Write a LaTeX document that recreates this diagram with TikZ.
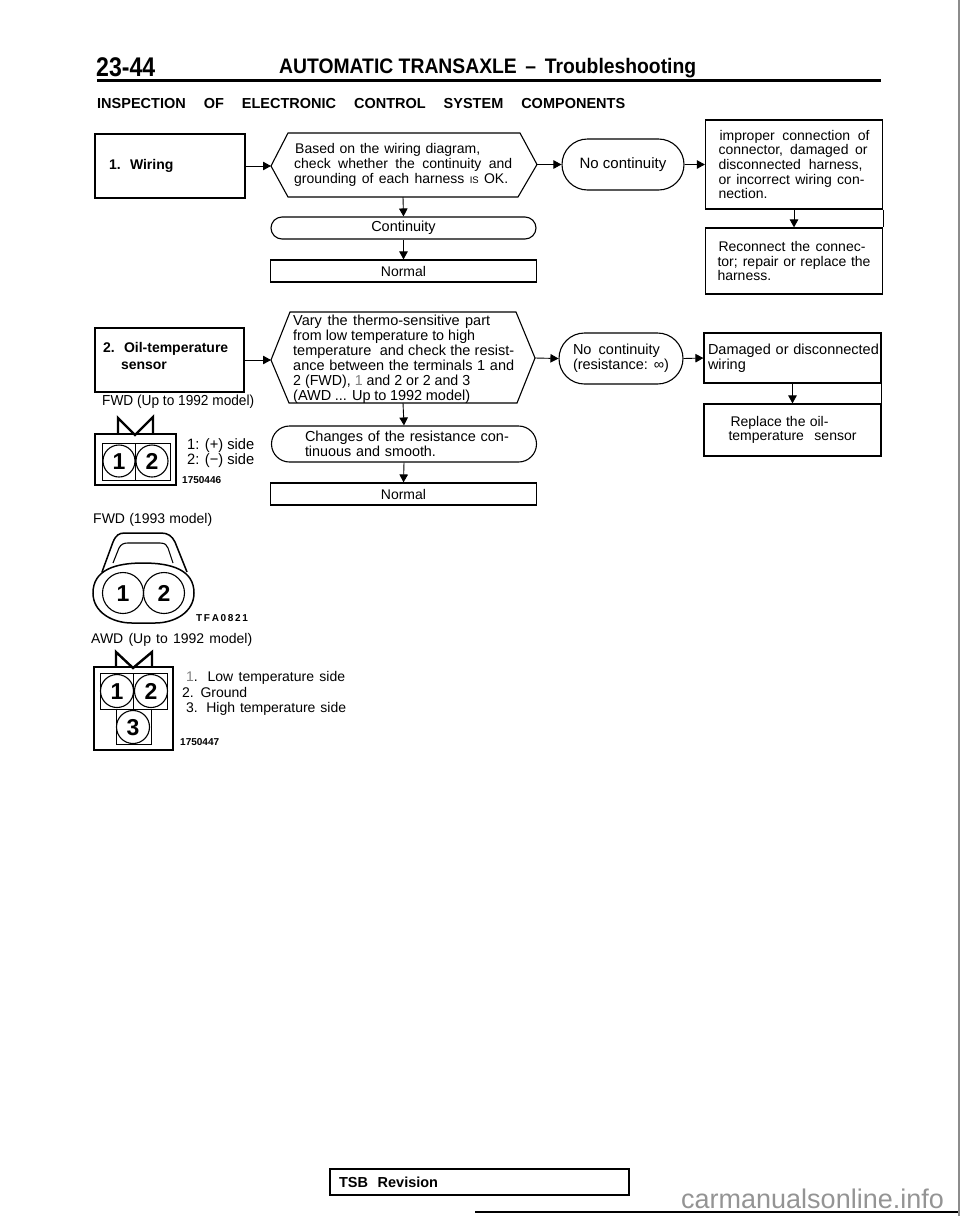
\documentclass[tikz,border=0pt]{standalone}
\usepackage{fontspec}
\setmainfont{Liberation Sans}
\usetikzlibrary{arrows.meta,shapes.misc}
\newcommand{\LN}[2]{\makebox[#1pt][s]{#2}}
\newcommand{\FT}[2]{\resizebox{#1pt}{\height}{#2}}
\newcommand{\tsz}{\fontsize{14}{14.7}\selectfont}
\tikzset{
  bx/.style={draw,line width=1.2pt,rectangle,inner sep=0pt,align=left,font=\tsz},
  stad/.style={draw,line width=1.1pt,rounded rectangle,inner sep=0pt,align=left,font=\tsz},
  hexa/.style={draw,line width=1.1pt,line join=miter},
  txt/.style={inner sep=0pt,align=left,font=\tsz},
  flow/.style={line width=0.9pt,-{Triangle[length=8pt,width=8.5pt]}},
  conn/.style={line width=2.4pt,line join=miter},
  thin conn/.style={line width=0.9pt},
  pin/.style={draw,circle,line width=1.1pt,minimum size=32pt,inner sep=0pt,text height=16.5pt,text depth=0pt,font=\bfseries\fontsize{23}{23}\selectfont},
  code/.style={inner sep=0pt,font=\bfseries\fontsize{10}{10}\selectfont}
}
\begin{document}
\begin{tikzpicture}[x=1pt,y=-1pt]
\useasboundingbox (0,0) rectangle (960,1216);
% page edge
\draw[line width=1.5pt,black!45] (959.2,0) -- (959.2,1216);
% page header
\node[txt,anchor=west,font=\bfseries\fontsize{27}{27}\selectfont] (pg) at (96,67) {\FT{59}{23-44}};
\node[txt,anchor=west,font=\bfseries\fontsize{21}{21}\selectfont] (title) at (279,68) {\FT{417}{AUTOMATIC TRANSAXLE \,–\, Troubleshooting}};
\draw[line width=3pt] (97,80) -- (881,80);
\node[txt,anchor=west,font=\bfseries\fontsize{14.5}{15}\selectfont] (head) at (97,104) {\LN{528}{INSPECTION\ \ OF\ \ ELECTRONIC\ \ CONTROL\ \ SYSTEM\ \ COMPONENTS}};
% row 1
\node[bx,minimum width=150pt,minimum height=64pt,text width=122pt,inner xsep=14pt,font=\bfseries\fontsize{14}{15}\selectfont] (b1) at (170,166) {1.\ \ Wiring};
\coordinate (h1l) at (271,166);
\coordinate (h1r) at (537,164.5);
\coordinate (h1b) at (403,197);
\draw[hexa] (h1l) -- (288,133) -- (520,133) -- (h1r) -- (518,197) -- (288,197) -- cycle;
\node[txt,anchor=west] (h1t) at (294,165) {\hspace*{1pt}\LN{185}{Based on the wiring diagram,}\\\LN{218}{check whether the continuity and}\\\LN{214}{grounding of each harness {\fontsize{9.5}{10}\selectfont IS} OK.}};
\node[stad,minimum width=265pt,minimum height=22pt,font=\fontsize{14.5}{15}\selectfont] (c1) at (403.5,228) {Continuity};
\node[bx,minimum width=266pt,minimum height=22pt] (n1) at (403.5,271) {Normal};
\node[stad,minimum width=122pt,minimum height=51pt,font=\fontsize{15}{15.5}\selectfont] (nc1) at (623,164.5) {No continuity};
\node[bx,minimum width=177pt,minimum height=89pt] (imp) at (794,164.5) {\hspace*{1pt}\LN{150}{improper connection of}\\\LN{149}{connector, damaged or}\\\LN{144}{disconnected harness,}\\\LN{146}{or incorrect wiring con-}\\nection.};
\node[bx,minimum width=177pt,minimum height=66pt] (rec) at (794,261) {\hspace*{1pt}\LN{147}{Reconnect the connec-}\\\LN{153}{tor; repair or replace the}\\harness.};
\draw[flow] (b1.east) -- (h1l);
\draw[flow] (h1r) -- (nc1.west);
\draw[flow] (nc1.east) -- (imp.west);
\draw[flow] (h1b) -- (c1.north);
\draw[flow] (c1.south) -- (n1.north);
\draw[flow] (imp.south) -- (rec.north);
\draw[line width=1.2pt] (imp.south east) -- (rec.north east);
% row 2
\node[bx,minimum width=149pt,minimum height=64pt,text width=133pt,inner xsep=8pt,font=\bfseries\fontsize{14}{15}\selectfont] (b2) at (169.5,360) {2.\ \ Oil-temperature\\[2pt]\hspace*{18pt}sensor\\[-6pt]\mbox{}};
\coordinate (h2l) at (271,360);
\coordinate (h2r) at (535,358);
\coordinate (h2b) at (403,403);
\draw[hexa] (h2l) -- (290,312) -- (516,312) -- (h2r) -- (517,403) -- (289,403) -- cycle;
\node[txt,anchor=west,font=\fontsize{14.5}{14.9}\selectfont] (h2t) at (293,359) {\LN{197}{Vary the thermo-sensitive part}\\\FT{182}{from low temperature to high}\\\LN{221}{temperature\ \ and check the resist-}\\\LN{221}{ance between the terminals 1 and}\\\FT{177}{2 (FWD), {\color{gray}1} and 2 or 2 and 3}\\\LN{177}{(AWD ... Up to 1992 model)}};
\node[stad,minimum width=265pt,minimum height=36pt,text width=198pt,font=\fontsize{14.5}{15}\selectfont] (c2) at (404,444) {\LN{198}{Changes of the resistance con-}\\\FT{131}{tinuous and smooth.}};
\node[bx,minimum width=266pt,minimum height=22pt] (n2) at (403.5,494) {Normal};
\node[stad,minimum width=124pt,minimum height=51pt,font=\fontsize{14.5}{15}\selectfont] (nc2) at (621,358.5) {\LN{87}{No continuity}\\\LN{96}{(resistance: ∞)}};
\node[bx,minimum width=177pt,minimum height=50pt,text width=169pt,inner xsep=4pt,font=\fontsize{14.5}{15}\selectfont] (dmg) at (792.5,358) {\LN{168}{Damaged or disconnected}\\wiring};
\node[bx,minimum width=177pt,minimum height=52pt] (rep) at (792.5,430) {\hspace*{2pt}\LN{98}{Replace the oil-}\\\LN{128}{temperature\ \ sensor}};
\draw[flow] (b2.east) -- (h2l);
\draw[flow] (h2r) -- (nc2.west);
\draw[flow] (nc2.east) -- (dmg.west);
\draw[flow] (h2b) -- (c2.north);
\draw[flow] (c2.south) -- (n2.north);
\draw[flow] (dmg.south) -- (rep.north);
\draw[line width=1.2pt] (dmg.south east) -- (rep.north east);
% connector FWD up to 1992
\node[txt,anchor=west,font=\fontsize{14.5}{15}\selectfont] (l1) at (102,402) {\FT{152}{FWD (Up to 1992 model)}};
\draw[conn] (118,434) -- (118,418) -- (135,435) -- (153,417) -- (153,434);
\draw[conn] (95,434) rectangle (176,485);
\draw[thin conn] (102,443) rectangle (170,480) (135,443) -- (135,480);
\node[pin] (p11) at (119,461) {1};
\node[pin] (p12) at (152,461) {2};
\node[txt,anchor=west,font=\fontsize{15}{15}\selectfont] (s1) at (187,453.5) {\FT{67}{1: (+) side}\\\FT{67}{2: (−) side}};
\node[code,anchor=west] (c1750446) at (182,480) {\FT{39}{1750446}};
% connector FWD 1993
\node[txt,anchor=west] (l2) at (93,520) {\LN{119}{FWD (1993 model)}};
\draw[line width=1.5pt,line join=round] (102,572) -- (113,542) .. controls (116,535) and (119,533) .. (125,533) -- (161,533) .. controls (168,533) and (172,536) .. (175,542) -- (187,572);
\draw[line width=1.1pt] (113,563) -- (119,548) .. controls (121,544) and (124,543) .. (128,543) -- (160,543) .. controls (165,543) and (167,545) .. (168,548) -- (173,563);
\draw[line width=1.5pt] (93,593) .. controls (93,570) and (115,563) .. (143,563) .. controls (172,563) and (194,570) .. (194,593) .. controls (194,612) and (175,623) .. (155,623) -- (132,623) .. controls (112,623) and (93,612) .. (93,593) -- cycle;
\node[pin,minimum size=41pt] (p21) at (123,593) {1};
\node[pin,minimum size=41pt] (p22) at (164,593) {2};
\node[code,anchor=west] (tfa) at (196,618) {\LN{55}{T\,F\,A\,0\,8\,2\,1}};
% connector AWD
\node[txt,anchor=west] (l3) at (91,640) {\LN{161}{AWD (Up to 1992 model)}};
\draw[conn] (116,667) -- (116,652) -- (133,668) -- (152,652) -- (152,667);
\draw[conn] (94,667) rectangle (173,750);
\draw[thin conn] (100,673) rectangle (167,709) (133,673) -- (133,709) (116,709) rectangle (151,744);
\node[pin,minimum size=33pt] (p31) at (117,691) {1};
\node[pin,minimum size=33pt] (p32) at (151,691) {2};
\node[pin,minimum size=33pt] (p33) at (133,727) {3};
\node[txt,anchor=west,font=\fontsize{14}{15.5}\selectfont] (s3) at (182,693.5) {\hspace*{4pt}\LN{159}{{\color{gray}1}. Low temperature side}\\\LN{65}{2. Ground}\\\hspace*{4pt}\LN{160}{3. High temperature side}};
\node[code,anchor=west] (c1750447) at (180,742) {\FT{39}{1750447}};
% footer
\node[bx,minimum width=299pt,minimum height=26pt,text width=281pt,inner xsep=9pt,font=\bfseries\fontsize{14.5}{15}\selectfont] (tsb) at (479.5,1182) {\LN{106}{TSB\ \ Revision}};
\draw[line width=1.5pt] (475,1212) -- (958,1212);
\node[txt,anchor=west,text=black!42,font=\fontsize{27}{27}\selectfont] (wm) at (681,1199) {carmanualsonline.info};
\end{tikzpicture}
\end{document}
